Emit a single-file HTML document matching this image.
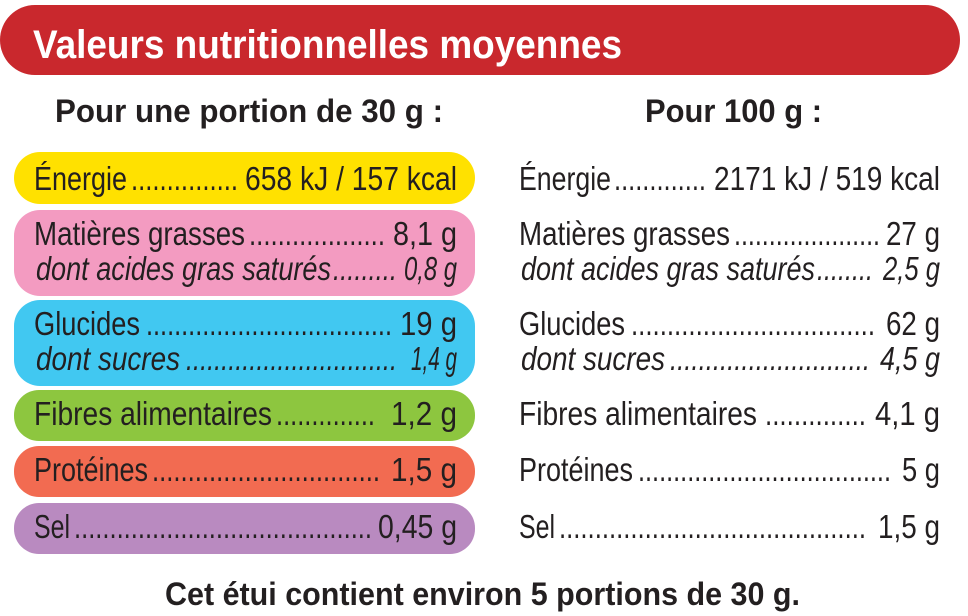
<!DOCTYPE html>
<html><head><meta charset="utf-8"><style>
html,body{margin:0;padding:0;background:#fff;}
svg{display:block;font-family:"Liberation Sans",sans-serif;}
</style></head><body>
<svg id="lab" width="968" height="616" viewBox="0 0 968 616">
<rect x="0" y="5" width="960" height="70" rx="35" fill="#C9282D"/>
<text x="33" y="58" font-size="40" font-weight="bold" fill="#fff" textLength="589" lengthAdjust="spacingAndGlyphs">Valeurs nutritionnelles moyennes</text>
<text x="55" y="122" font-size="32" font-weight="bold" fill="#231f20" textLength="388" lengthAdjust="spacingAndGlyphs">Pour une portion de 30 g :</text>
<text x="645" y="122" font-size="32" font-weight="bold" fill="#231f20" textLength="177" lengthAdjust="spacingAndGlyphs">Pour 100 g :</text>
<rect x="14" y="152" width="461" height="52" rx="26" fill="#FFE100"/>
<rect x="14" y="210" width="461" height="86" rx="26" fill="#F39BC1"/>
<rect x="14" y="300" width="461" height="86" rx="26" fill="#41C8F1"/>
<rect x="14" y="390" width="461" height="51" rx="25" fill="#8DC63F"/>
<rect x="14" y="446" width="461" height="51" rx="25" fill="#F26B51"/>
<rect x="14" y="503" width="461" height="51" rx="25" fill="#B98AC0"/>
<text x="165" y="605" font-size="32" font-weight="bold" fill="#231f20" textLength="635" lengthAdjust="spacingAndGlyphs">Cet étui contient environ 5 portions de 30 g.</text>
<g id="rows"></g>
</svg>
<script>
// label, baseline, italic, [labelStart,labelEnd,dotStart,dotEnd,valStart,valEnd], value
const rowsLeft = [
 ["Énergie",190,false,[34,127,131,238,245,457],"658 kJ / 157 kcal"],
 ["Matières grasses",245,false,[34,245,249,385,393,457],"8,1 g"],
 ["dont acides gras saturés",280,true,[36,331,333,397,404,457],"0,8 g"],
 ["Glucides",335,false,[34,140,146,392,400,457],"19 g"],
 ["dont sucres",370,true,[36,180,186,397,411,457],"1,4 g"],
 ["Fibres alimentaires",425,false,[34,272,276,375,391,457],"1,2 g"],
 ["Protéines",481,false,[34,148,152,380,391,457],"1,5 g"],
 ["Sel",538,false,[34,70,74,372,378,457],"0,45 g"]
];
const rowsRight = [
 ["Énergie",190,false,[519,611,614,706,714,940],"2171 kJ / 519 kcal"],
 ["Matières grasses",245,false,[519,730,734,880,886,940],"27 g"],
 ["dont acides gras saturés",280,true,[521,815,817,873,883,940],"2,5 g"],
 ["Glucides",335,false,[519,625,631,875,886,940],"62 g"],
 ["dont sucres",370,true,[521,665,670,870,880,940],"4,5 g"],
 ["Fibres alimentaires",425,false,[519,757,765,866,875,940],"4,1 g"],
 ["Protéines",481,false,[519,633,638,891,902,940],"5 g"],
 ["Sel",538,false,[519,555,559,866,878,940],"1,5 g"]
];
const NS="http://www.w3.org/2000/svg";
const g=document.getElementById('rows');
function t(str,x,y,len,it,name){
 const e=document.createElementNS(NS,'text');
 e.setAttribute('x',x);e.setAttribute('y',y);
 e.setAttribute('font-size','33');e.setAttribute('fill','#231f20');
 if(it)e.setAttribute('font-style','italic');
 e.setAttribute('textLength',len);e.setAttribute('lengthAdjust','spacingAndGlyphs');
 
 
 e.textContent=str;g.appendChild(e);
}
[rowsLeft,rowsRight].forEach((rows,ci)=>rows.forEach(r=>{
 const [lab,y,it,p,val]=r;
 const slug=lab.normalize('NFD').replace(/[\u0300-\u036f]/g,'').toLowerCase().replace(/\s+/g,'-');
 const col=ci?'per100':'portion';
 t(lab,p[0],y,p[1]-p[0],it,col+'-'+slug+'-label');
 const n=Math.max(2,Math.round((p[3]-p[2])/7.1));
 t('.'.repeat(n),p[2],y,p[3]-p[2],it,col+'-'+slug+'-leader');
 t(val,p[4],y,p[5]-p[4],it,col+'-'+slug+'-value');
}));
</script>
</body></html>
